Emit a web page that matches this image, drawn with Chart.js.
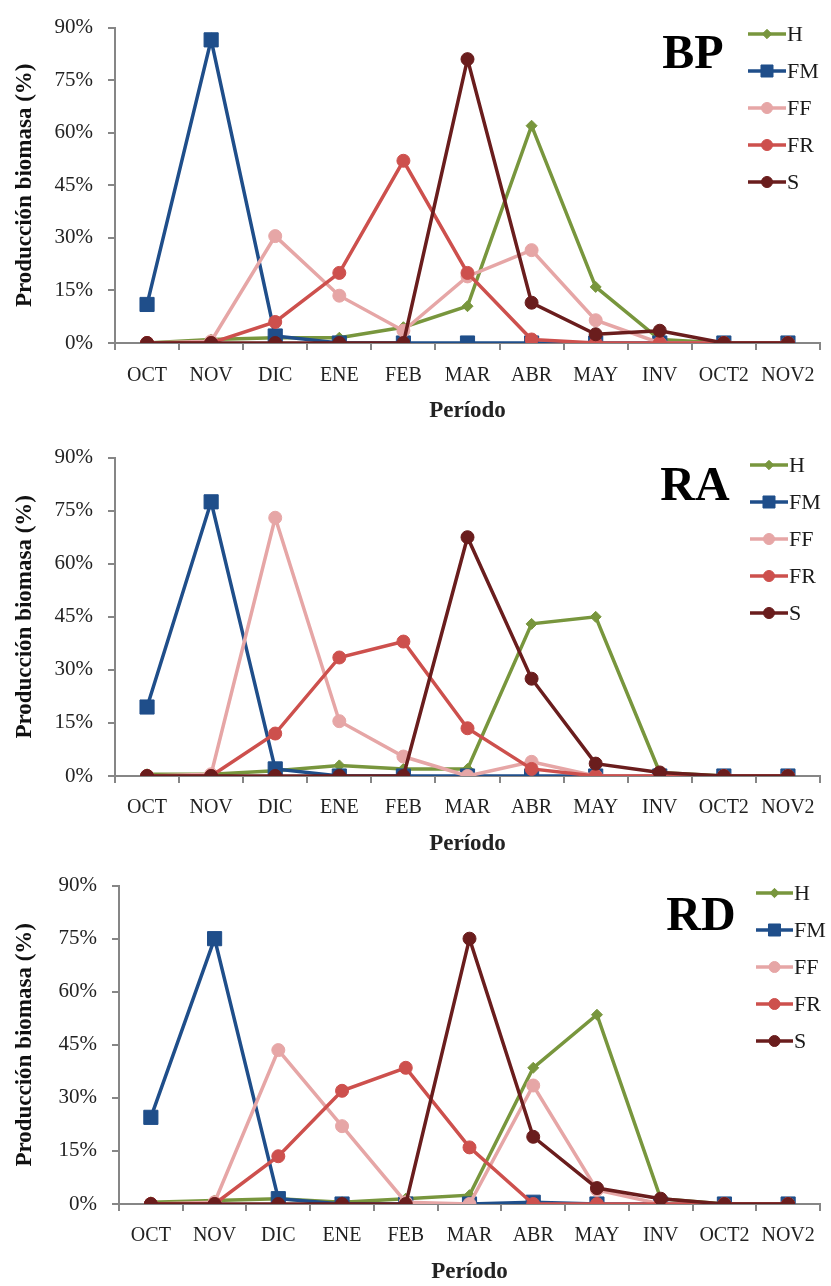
<!DOCTYPE html>
<html>
<head>
<meta charset="utf-8">
<script src="https://cdn.jsdelivr.net/npm/chart.js@4.4.0/dist/chart.umd.min.js"></script>
<style>
  body { margin: 0; background: #fff; width: 831px; height: 1286px; overflow: hidden; position: relative; }
  .panel { position: absolute; left: 0; width: 831px; height: 428px; }
</style>
</head>
<body>
<div class="panel" style="top:0px"><canvas id="chartBP" width="831" height="428"></canvas></div>
<div class="panel" style="top:430px"><canvas id="chartRA" width="831" height="428"></canvas></div>
<div class="panel" style="top:858px"><canvas id="chartRD" width="831" height="428"></canvas></div>
<script>
const periods = ['OCT', 'NOV', 'DIC', 'ENE', 'FEB', 'MAR', 'ABR', 'MAY', 'INV', 'OCT2', 'NOV2'];
const seriesNames = ['H', 'FM', 'FF', 'FR', 'S'];
const yMax = 90;
const yStep = 15;

// BP
const bpH  = [0, 1, 1.5, 1.5, 4.5, 10.5, 62, 16, 1, 0, 0];
const bpFM = [11, 86.5, 2, 0, 0, 0, 0, 0, 0, 0, 0];
const bpFF = [0, 0.5, 30.5, 13.5, 3.5, 19, 26.5, 6.5, 0, 0, 0];
const bpFR = [0, 0, 6, 20, 52, 20, 1, 0, 0, 0, 0];
const bpS  = [0, 0, 0, 0, 0, 81, 11.5, 2.5, 3.5, 0, 0];

// RA
const raH  = [0.5, 0.5, 1.5, 3, 2, 2, 43, 45, 1, 0, 0];
const raFM = [19.5, 77.5, 2, 0, 0, 0, 0, 0, 0, 0, 0];
const raFF = [0, 0.5, 73, 15.5, 5.5, 0, 4, 0, 0, 0, 0];
const raFR = [0, 0, 12, 33.5, 38, 13.5, 2, 0, 0, 0, 0];
const raS  = [0, 0, 0, 0, 0, 67.5, 27.5, 3.5, 1, 0, 0];

// RD
const rdH  = [0.5, 1, 1.5, 0.5, 1.5, 2.5, 38.5, 53.5, 1.5, 0, 0];
const rdFM = [24.5, 75, 1.5, 0, 0, 0, 0.5, 0, 0, 0, 0];
const rdFF = [0, 0.5, 43.5, 22, 0.5, 0, 33.5, 4, 0, 0, 0];
const rdFR = [0, 0, 13.5, 32, 38.5, 16, 0, 0, 0, 0, 0];
const rdS  = [0, 0, 0, 0, 0, 75, 19, 4.5, 1.5, 0, 0];

const SERIF = "'Liberation Serif', 'Times New Roman', serif";
const AXIS_GRAY = '#868686';

const styles = {
    H:  { color: '#78963d', pointStyle: 'rectRot', radius: 5.5, order: 4 },
    FM: { color: '#1f4e8a', pointStyle: 'rect',    radius: 10,  order: 3 },
    FF: { color: '#e6a6a6', pointStyle: 'circle',  radius: 6.5, order: 2 },
    FR: { color: '#cd504d', pointStyle: 'circle',  radius: 6.5, order: 1 },
    S:  { color: '#6a1d1d', pointStyle: 'circle',  radius: 6.5, order: 0 }
};

// legend + big panel label drawn on top of the plot
const sideLegend = {
    id: 'sideLegend',
    afterDraw(chart, args, o) {
        const ctx = chart.ctx;
        ctx.save();
        chart.data.datasets.forEach((ds, i) => {
            const y = o.y0 + i * o.dy;
            ctx.strokeStyle = ds.borderColor;
            ctx.lineWidth = 3.5;
            ctx.beginPath(); ctx.moveTo(o.x0, y); ctx.lineTo(o.x1, y); ctx.stroke();
            ctx.fillStyle = ds.backgroundColor;
            ctx.lineWidth = 1;
            Chart.helpers.drawPoint(ctx, { pointStyle: ds.pointStyle, radius: ds.pointRadius * 0.85, rotation: 0, borderWidth: 1 }, (o.x0 + o.x1) / 2, y);
            ctx.fillStyle = '#1a1a1a';
            ctx.font = '22px ' + SERIF;
            ctx.textAlign = 'left'; ctx.textBaseline = 'middle';
            ctx.fillText(ds.label, o.x1 + 1, y + 1);
        });
        ctx.fillStyle = '#000';
        ctx.font = 'bold 48px ' + SERIF;
        ctx.textAlign = 'center'; ctx.textBaseline = 'middle';
        ctx.fillText(o.title, o.tx, o.ty);
        ctx.restore();
    }
};

const makeChart = (id, data, lay) => {
    const datasets = seriesNames.map((name, i) => {
        const s = styles[name];
        return {
            label: name, data: data[i], order: s.order,
            borderColor: s.color, backgroundColor: s.color,
            borderWidth: 3.5, pointStyle: s.pointStyle, pointRadius: s.radius,
            pointBorderWidth: 1, pointBorderColor: s.color, pointBackgroundColor: s.color,
            tension: 0
        };
    });
    return new Chart(document.getElementById(id), {
        type: 'line',
        data: { labels: periods, datasets },
        options: {
            responsive: false, animation: false,
            layout: { padding: { top: lay.padTop, right: lay.padRight, bottom: 0, left: 0 } },
            plugins: {
                legend: { display: false }, tooltip: { enabled: false },
                sideLegend: lay.legend
            },
            scales: {
                x: {
                    offset: true,
                    grid: { offset: true, drawOnChartArea: false, tickLength: 7, color: AXIS_GRAY, lineWidth: 2 },
                    border: { color: AXIS_GRAY, width: 2 },
                    ticks: { color: '#222', font: { family: SERIF, size: 20 }, padding: lay.xTickPad, maxRotation: 0, autoSkip: false },
                    title: { display: true, text: 'Período', color: '#222', font: { family: SERIF, size: 23, weight: 'bold' }, padding: { top: 0, bottom: lay.xTitlePad } },
                    afterFit: (scale) => { scale.height = lay.xHeight; }
                },
                y: {
                    min: 0, max: yMax,
                    grid: { drawOnChartArea: false, tickLength: 7, color: AXIS_GRAY, lineWidth: 2 },
                    border: { color: AXIS_GRAY, width: 2 },
                    ticks: { stepSize: yStep, color: '#222', font: { family: SERIF, size: 21 }, padding: 15, callback: v => v + '%' },
                    title: { display: true, text: 'Producción biomasa (%)', color: '#111', font: { family: SERIF, size: 23, weight: 'bold' }, padding: { top: 11, bottom: 0 } },
                    afterFit: (scale) => { scale.width = lay.yWidth; }
                }
            }
        },
        plugins: [sideLegend]
    });
};

makeChart('chartBP', [bpH, bpFM, bpFF, bpFR, bpS], {
    padTop: 18, padRight: 2, xHeight: 85, xTickPad: 14, xTitlePad: 3, yWidth: 115,
    legend: { x0: 748, x1: 786, y0: 34, dy: 37, title: 'BP', tx: 693, ty: 56 }
});
makeChart('chartRA', [raH, raFM, raFF, raFR, raS], {
    padTop: 22, padRight: 2, xHeight: 82, xTickPad: 13, xTitlePad: 0, yWidth: 115,
    legend: { x0: 750, x1: 788, y0: 35, dy: 37, title: 'RA', tx: 695, ty: 58 }
});
makeChart('chartRD', [rdH, rdFM, rdFF, rdFR, rdS], {
    padTop: 22, padRight: 0, xHeight: 82, xTickPad: 13, xTitlePad: 0, yWidth: 119,
    legend: { x0: 756, x1: 793, y0: 35, dy: 37, title: 'RD', tx: 701, ty: 60 }
});
</script>
</body>
</html>
